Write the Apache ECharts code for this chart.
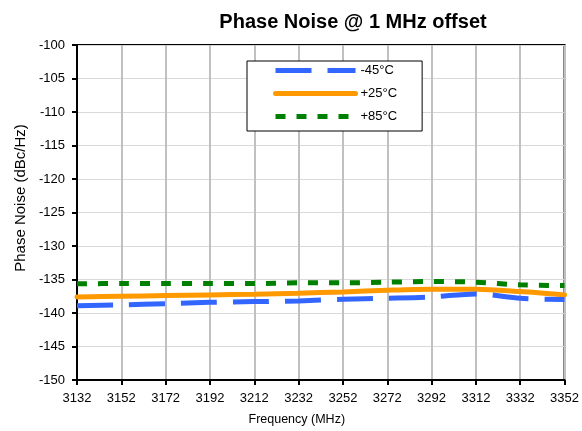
<!DOCTYPE html>
<html>
<head>
<meta charset="utf-8">
<script src="https://cdn.jsdelivr.net/npm/echarts@6/dist/echarts.min.js"></script>
<style>
html,body{margin:0;padding:0;background:#fff;}
#chart{width:582px;height:431px;}
</style>
</head>
<body>
<div id="chart"></div>
<script>
var frequencies = ['3132','3152','3172','3192','3212','3232','3252','3272','3292','3312','3332','3352'];
var seriesNames = ['-45°C', '+25°C', '+85°C'];
var minus45 = [-138.9, -138.8, -138.6, -138.4, -138.3, -138.2, -137.95, -137.8, -137.6, -137.15, -137.8, -138.0];
var plus25  = [-137.6, -137.5, -137.4, -137.3, -137.2, -137.05, -136.85, -136.6, -136.45, -136.45, -136.8, -137.3];
var plus85  = [-135.65, -135.6, -135.6, -135.6, -135.6, -135.5, -135.5, -135.4, -135.3, -135.4, -135.8, -135.9];

var FONT = '"Liberation Sans", Arial, sans-serif';
var chart = echarts.init(document.getElementById('chart'), null, {renderer: 'canvas'});
chart.setOption({
  animation: false,
  backgroundColor: '#fff',
  textStyle: {fontFamily: FONT},
  title: {
    text: 'Phase Noise @ 1 MHz offset',
    left: 348, top: 7, textAlign: 'center',
    textStyle: {fontFamily: FONT, fontSize: 20, fontWeight: 'bold', color: '#000'}
  },
  legend: {
    orient: 'vertical',
    left: 247, top: 61,
    padding: [3, 25, 8, 26],
    itemWidth: 80, itemHeight: 12, itemGap: 10,
    backgroundColor: '#fff',
    borderColor: '#000', borderWidth: 1,
    itemStyle: {opacity: 0},
    lineStyle: {width: 5},
    textStyle: {fontFamily: FONT, fontSize: 13, color: '#000'},
    data: seriesNames
  },
  grid: {
    left: 77, right: 14, top: 45, bottom: 50,
    show: true, borderColor: '#000', borderWidth: 2, backgroundColor: 'transparent'
  },
  xAxis: {
    type: 'category',
    data: frequencies,
    boundaryGap: false,
    name: 'Frequency (MHz)',
    nameLocation: 'middle',
    nameGap: 33,
    nameTextStyle: {fontFamily: FONT, fontSize: 12.5, color: '#000', padding: [0, 48, 0, 0]},
    axisLine: {lineStyle: {color: '#000', width: 2}},
    axisTick: {show: true, inside: false, length: 5, lineStyle: {color: '#000', width: 2}},
    axisLabel: {fontFamily: FONT, fontSize: 13, color: '#000', margin: 12, interval: 0},
    splitLine: {show: true, lineStyle: {color: '#c0c0c0', width: 2}}
  },
  yAxis: {
    type: 'value',
    min: -150, max: -100, interval: 5,
    name: 'Phase Noise (dBc/Hz)',
    nameLocation: 'middle',
    nameGap: 45,
    nameTextStyle: {fontFamily: FONT, fontSize: 15, color: '#000', padding: [0, 0, 0, 29]},
    axisLine: {show: true, lineStyle: {color: '#000', width: 2}},
    axisTick: {show: true, inside: false, length: 5, lineStyle: {color: '#000', width: 2}},
    axisLabel: {fontFamily: FONT, fontSize: 13, color: '#000', margin: 12},
    splitLine: {show: true, lineStyle: {color: '#d9d9d9', width: 1}}
  },
  series: [
    {
      name: seriesNames[0], type: 'line', data: minus45, symbol: 'none', smooth: 0.3,
      lineStyle: {color: '#3366ff', width: 5, type: [36, 16], cap: 'butt'},
      itemStyle: {color: '#3366ff'}, z: 3
    },
    {
      name: seriesNames[1], type: 'line', data: plus25, symbol: 'none', smooth: 0.3,
      lineStyle: {color: '#ff9900', width: 5, type: 'solid', cap: 'round'},
      itemStyle: {color: '#ff9900'}, z: 2
    },
    {
      name: seriesNames[2], type: 'line', data: plus85, symbol: 'none', smooth: 0.3,
      lineStyle: {color: '#008000', width: 5, type: [10, 11], cap: 'butt'},
      itemStyle: {color: '#008000'}, z: 4
    }
  ]
});
</script>
</body>
</html>
